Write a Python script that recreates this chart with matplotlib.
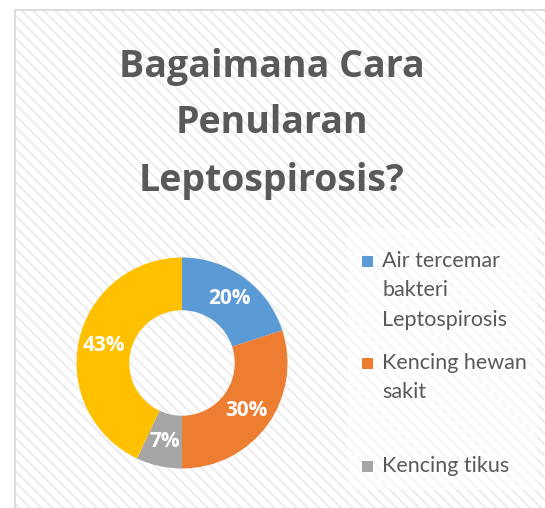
import matplotlib
matplotlib.use("Agg")
import matplotlib.pyplot as plt
from matplotlib.patches import Rectangle

# ---------------- data ----------------
title_lines = ["Bagaimana Cara", "Penularan", "Leptospirosis?"]
categories = ["Air tercemar\nbakteri\nLeptospirosis", "Kencing hewan\nsakit", "Kencing tikus", "Lainnya"]
values = [20, 30, 7, 43]
colors = ["#5B9BD5", "#ED7D31", "#A5A5A5", "#FFC000"]
legend_shown = 3  # only the first three legend entries are visible

# ---------------- layout ----------------
W, H, DPI = 545, 508, 100
TEXT_GRAY = "#595959"

plt.rcParams['font.family'] = ['Lato', 'DejaVu Sans']
plt.rcParams['hatch.linewidth'] = 1.6

fig = plt.figure(figsize=(W / DPI, H / DPI), dpi=DPI)
fig.patch.set_facecolor('white')


def fx(x):
    return x / W


def fy(y):
    return 1 - y / H


# chart area with diagonal texture
x0, y0, x1, y1 = 15, 10, 570, 540
fig.patches.append(Rectangle((fx(x0), fy(y1)), fx(x1) - fx(x0), fy(y0) - fy(y1),
                             transform=fig.transFigure, facecolor='white',
                             edgecolor='#EEEEEE', hatch='\\\\\\', linewidth=0, zorder=0))
fig.patches.append(Rectangle((fx(x0), fy(y1)), fx(x1) - fx(x0), fy(y0) - fy(y1),
                             transform=fig.transFigure, facecolor='none',
                             edgecolor='#D9D9D9', linewidth=1.3, zorder=1))

# legend background
lx0, ly0, lx1, ly1 = 348, 228, 537, 490
fig.patches.append(Rectangle((fx(lx0), fy(ly1)), fx(lx1) - fx(lx0), fy(ly0) - fy(ly1),
                             transform=fig.transFigure, facecolor='white', alpha=0.55,
                             edgecolor='none', zorder=1))

# title
title_baselines = [77, 133, 191]
for line, yb in zip(title_lines, title_baselines):
    fig.text(fx(272), fy(yb), line, ha='center', va='baseline', fontsize=27,
             fontweight='bold', color=TEXT_GRAY, zorder=3, family=['Open Sans', 'DejaVu Sans'])

# donut
cx, cy, r = 182, 363, 105.5
ax = fig.add_axes([fx(cx - r), fy(cy + r), 2 * r / W, 2 * r / H])
ax.set_zorder(2)
ax.patch.set_alpha(0)
wedges, texts, autotexts = ax.pie(
    values, colors=colors, startangle=90, counterclock=False, radius=1,
    wedgeprops=dict(width=0.5, linewidth=0),
    autopct=lambda p: f"{p:.0f}%", pctdistance=0.76,
    textprops=dict(color='white', fontsize=15, fontweight='bold',
                   family=['Open Sans', 'DejaVu Sans']))
ax.set_xlim(-1, 1)
ax.set_ylim(-1, 1)
ax.set_aspect('equal')
ax.axis('off')

# legend (manual, to match the cut-off layout)
leg_baselines = [267, 369, 472]
line_step = 29.5
sq = 11
for i in range(legend_shown):
    yb = leg_baselines[i]
    fig.patches.append(Rectangle((fx(362), fy(yb - 0.5)), sq / W, sq / H,
                                 transform=fig.transFigure, facecolor=colors[i],
                                 edgecolor='none', zorder=3))
    for k, part in enumerate(categories[i].split("\n")):
        fig.text(fx(382), fy(yb + k * line_step), part, ha='left', va='baseline',
                 fontsize=15.5, color=TEXT_GRAY, zorder=3)

fig.savefig("out.png", dpi=DPI, facecolor='white')
